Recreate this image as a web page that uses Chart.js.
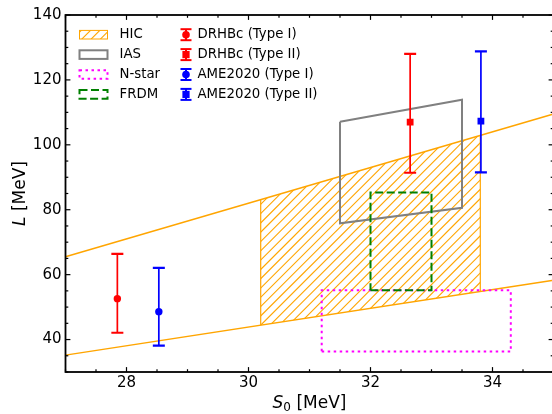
<!DOCTYPE html>
<html><head><meta charset="utf-8">
<script src="https://cdn.jsdelivr.net/npm/chart.js@4/dist/chart.umd.min.js"></script>
<style>html,body{margin:0;padding:0;overflow:hidden;background:#fff;width:552px;height:414px}#wrap{width:552px;height:414px;position:relative;overflow:hidden}canvas{display:block;position:absolute;left:0;top:0}</style>
</head><body><div id="wrap"><canvas id="c" width="556" height="414" style="width:556px;height:414px"></canvas></div>
<script>
// ---- data ----
const xRange = [27, 35];
const yRange = [30, 140];
const xTicks = [28, 30, 32, 34];
const yTicks = [40, 60, 80, 100, 120, 140];
const hicLineS = [27, 35];
const hicUpperL = [65.5, 109.5];
const hicLowerL = [35.2, 58.3];
const hicBandS = [30.2, 33.8];
const hicBandTop = [83.1, 102.9];
const hicBandBottom = [44.4, 54.9];
const iasS = [31.5, 33.5, 33.5, 31.5, 31.5];
const iasL = [107.1, 113.9, 80.6, 75.8, 107.1];
const nstarS = [31.2, 34.3];
const nstarL = [36.3, 55.2];
const frdmS = [32.0, 33.0];
const frdmL = [55.2, 85.3];
const bandNames = ['HIC', 'IAS', 'N-star', 'FRDM'];
const pointNames = ['DRHBc (Type I)', 'DRHBc (Type II)', 'AME2020 (Type I)', 'AME2020 (Type II)'];
const pointS = [27.85, 32.65, 28.53, 33.81];
const pointL = [52.6, 107.0, 48.6, 107.3];
const pointLow = [42.1, 91.4, 38.1, 91.5];
const pointHigh = [66.4, 128.0, 62.1, 128.8];

// ---- styles ----
const ORANGE = '#FFA500', GRAY = '#808080', MAGENTA = '#FF00FF', GREEN = '#008000';
const pointColors = ['#FF0000', '#FF0000', '#0000FF', '#0000FF'];
const pointStyles = ['circle', 'rect', 'circle', 'rect'];
const pointRadii = [3.7, 4.8, 3.7, 4.8];
const FONT = '"DejaVu Sans", "Liberation Sans", sans-serif';
const HATCH_STEP = 9.3;

function hatchPoly(ctx, poly, color) {
  ctx.save();
  ctx.beginPath();
  poly.forEach((p, i) => i ? ctx.lineTo(p[0], p[1]) : ctx.moveTo(p[0], p[1]));
  ctx.closePath();
  ctx.clip();
  const xsP = poly.map(p => p[0]), ysP = poly.map(p => p[1]);
  const minX = Math.min(...xsP), maxX = Math.max(...xsP), minY = Math.min(...ysP), maxY = Math.max(...ysP);
  ctx.strokeStyle = color; ctx.lineWidth = 1.1;
  const c0 = Math.floor((minX + minY) / HATCH_STEP) * HATCH_STEP, c1 = maxX + maxY;
  for (let c = c0; c <= c1; c += HATCH_STEP) {
    ctx.beginPath();
    ctx.moveTo(c - maxY - 2, maxY + 2);
    ctx.lineTo(c - minY + 2, minY - 2);
    ctx.stroke();
  }
  ctx.restore();
}

const pts = (xs, ys) => xs.map((x, i) => ({x: x, y: ys[i]}));
const rect = (xs, ys) => [{x: xs[0], y: ys[0]}, {x: xs[1], y: ys[0]}, {x: xs[1], y: ys[1]}, {x: xs[0], y: ys[1]}, {x: xs[0], y: ys[0]}];
const lineDs = (data, color, width, dash, order) => ({data, showLine: true, borderColor: color, borderWidth: width, borderDash: dash || [], pointRadius: 0, fill: false, order: order, tension: 0});

const datasets = [
  lineDs([{x: hicBandS[0], y: hicBandBottom[0]}, {x: hicBandS[0], y: hicBandTop[0]}], ORANGE, 1.2, null, 15),
  lineDs([{x: hicBandS[1], y: hicBandBottom[1]}, {x: hicBandS[1], y: hicBandTop[1]}], ORANGE, 1.2, null, 15),
  lineDs(pts(hicLineS, hicUpperL), ORANGE, 1.5, null, 14),
  lineDs(pts(hicLineS, hicLowerL), ORANGE, 1.5, null, 14),
  lineDs(pts(iasS, iasL), GRAY, 2, null, 12),
  lineDs(rect(nstarS, nstarL), MAGENTA, 2, [2.5, 3.5], 11),
  lineDs(rect(frdmS, frdmL), GREEN, 2, [8, 3.5], 10),
];
pointNames.forEach((n, i) => {
  datasets.push({label: n + ' err', data: [{x: pointS[i], y: pointLow[i]}, {x: pointS[i], y: pointHigh[i]}], showLine: true,
    borderColor: pointColors[i], borderWidth: 1.7, pointStyle: 'line', pointRadius: 6, pointBorderWidth: 2.2,
    pointBorderColor: pointColors[i], fill: false, order: 5});
  datasets.push({label: n, data: [{x: pointS[i], y: pointL[i]}], pointStyle: pointStyles[i], pointRadius: pointRadii[i],
    backgroundColor: pointColors[i], pointBackgroundColor: pointColors[i], pointBorderColor: pointColors[i], pointBorderWidth: 0, order: 1});
});

const decor = {
  id: 'decor',
  beforeDatasetsDraw(chart) {
    const ctx = chart.ctx, xs = chart.scales.x, ys = chart.scales.y, a = chart.chartArea;
    ctx.save();
    ctx.beginPath(); ctx.rect(a.left, a.top, a.right - a.left, a.bottom - a.top); ctx.clip();
    const poly = [
      [xs.getPixelForValue(hicBandS[0]), ys.getPixelForValue(hicBandTop[0])],
      [xs.getPixelForValue(hicBandS[1]), ys.getPixelForValue(hicBandTop[1])],
      [xs.getPixelForValue(hicBandS[1]), ys.getPixelForValue(hicBandBottom[1])],
      [xs.getPixelForValue(hicBandS[0]), ys.getPixelForValue(hicBandBottom[0])],
    ];
    hatchPoly(ctx, poly, ORANGE);
    ctx.restore();
  },
  afterDraw(chart) {
    const ctx = chart.ctx, a = chart.chartArea, xs = chart.scales.x, ys = chart.scales.y;
    ctx.save();
    ctx.strokeStyle = '#000'; ctx.lineWidth = 1.8;
    ctx.strokeRect(a.left, a.top, a.right - a.left, a.bottom - a.top);
    ctx.lineWidth = 1.2;
    const tick = (x1, y1, x2, y2) => { ctx.beginPath(); ctx.moveTo(x1, y1); ctx.lineTo(x2, y2); ctx.stroke(); };
    for (let v = xRange[0]; v <= xRange[1] + 1e-9; v += 0.5) {
      const major = xTicks.includes(v);
      const L = major ? 4.9 : 2.8, px = xs.getPixelForValue(v);
      tick(px, a.bottom, px, a.bottom - L); tick(px, a.top, px, a.top + L);
    }
    for (let v = yRange[0]; v <= yRange[1] + 1e-9; v += 5) {
      const major = yTicks.includes(v);
      const L = major ? 4.9 : 2.8, py = ys.getPixelForValue(v);
      tick(a.left, py, a.left + L, py); tick(a.right, py, a.right - L, py);
    }
    // axis titles
    ctx.fillStyle = '#000';
    ctx.textBaseline = 'alphabetic';
    const big = 17, sub = 12;
    ctx.font = 'italic ' + big + 'px ' + FONT; const wS = ctx.measureText('S').width;
    ctx.font = sub + 'px ' + FONT; const w0 = ctx.measureText('0').width;
    ctx.font = big + 'px ' + FONT; const wR = ctx.measureText(' [MeV]').width;
    let x = (a.left + a.right) / 2 - (wS + w0 + wR) / 2; const by = 408;
    ctx.textAlign = 'left';
    ctx.font = 'italic ' + big + 'px ' + FONT; ctx.fillText('S', x, by); x += wS;
    ctx.font = sub + 'px ' + FONT; ctx.fillText('0', x, by + 3); x += w0;
    ctx.font = big + 'px ' + FONT; ctx.fillText(' [MeV]', x, by);
    ctx.save();
    ctx.translate(24.5, (a.top + a.bottom) / 2); ctx.rotate(-Math.PI / 2);
    ctx.font = 'italic ' + big + 'px ' + FONT; const wL = ctx.measureText('L').width;
    ctx.font = big + 'px ' + FONT; const wM = ctx.measureText(' [MeV]').width;
    let yx = -(wL + wM) / 2;
    ctx.font = 'italic ' + big + 'px ' + FONT; ctx.fillText('L', yx, 0); yx += wL;
    ctx.font = big + 'px ' + FONT; ctx.fillText(' [MeV]', yx, 0);
    ctx.restore();
    // legend
    const rows = [34.7, 54.6, 74.5, 94.4];
    const px0 = 79.5, pw = 28, ph = 8.6;
    ctx.font = '13.3px ' + FONT; ctx.textBaseline = 'middle'; ctx.textAlign = 'left';
    const bandStyles = [
      {stroke: ORANGE, w: 1, dash: [], hatch: true},
      {stroke: GRAY, w: 2, dash: []},
      {stroke: MAGENTA, w: 2, dash: [2.5, 3.5]},
      {stroke: GREEN, w: 2, dash: [8, 3.5]},
    ];
    bandNames.forEach((n, i) => {
      const st = bandStyles[i], cy = rows[i];
      if (st.hatch) hatchPoly(ctx, [[px0, cy - ph / 2], [px0 + pw, cy - ph / 2], [px0 + pw, cy + ph / 2], [px0, cy + ph / 2]], ORANGE);
      ctx.strokeStyle = st.stroke; ctx.lineWidth = st.w; ctx.setLineDash(st.dash);
      ctx.strokeRect(px0, cy - ph / 2, pw, ph);
      ctx.setLineDash([]);
      ctx.fillStyle = '#000'; ctx.fillText(n, 119.5, cy);
    });
    pointNames.forEach((n, i) => {
      const cy = rows[i], cx = 186, c = pointColors[i];
      ctx.strokeStyle = c; ctx.fillStyle = c; ctx.lineWidth = 2;
      tick(cx, cy - 5.5, cx, cy + 5.5);
      tick(cx - 5.5, cy - 5.5, cx + 5.5, cy - 5.5);
      tick(cx - 5.5, cy + 5.5, cx + 5.5, cy + 5.5);
      if (pointStyles[i] === 'circle') { ctx.beginPath(); ctx.arc(cx, cy, 3.8, 0, Math.PI * 2); ctx.fill(); }
      else { ctx.fillRect(cx - 3.6, cy - 3.6, 7.2, 7.2); }
      ctx.fillStyle = '#000'; ctx.fillText(n, 197.5, cy);
    });
    ctx.restore();
  }
};

new Chart(document.getElementById('c'), {
  type: 'scatter',
  data: {datasets},
  options: {
    responsive: false, animation: false, events: [],
    layout: {autoPadding: false, padding: {left: 0, top: 15, right: 2.5, bottom: 0}},
    plugins: {legend: {display: false}, tooltip: {enabled: false}},
    scales: {
      x: {type: 'linear', min: xRange[0], max: xRange[1],
        grid: {display: false, drawTicks: false}, border: {display: false},
        afterBuildTicks: s => { s.ticks = xTicks.map(v => ({value: v})); },
        afterFit: s => { s.height = 42; },
        ticks: {color: '#000', font: {family: FONT, size: 15}, padding: 2, maxRotation: 0, autoSkip: false}},
      y: {type: 'linear', min: yRange[0], max: yRange[1],
        grid: {display: false, drawTicks: false}, border: {display: false},
        afterBuildTicks: s => { s.ticks = yTicks.map(v => ({value: v})); },
        afterFit: s => { s.width = 65.5; },
        ticks: {color: '#000', font: {family: FONT, size: 15}, padding: 4, autoSkip: false}}
    }
  },
  plugins: [decor]
});
</script></body></html>
